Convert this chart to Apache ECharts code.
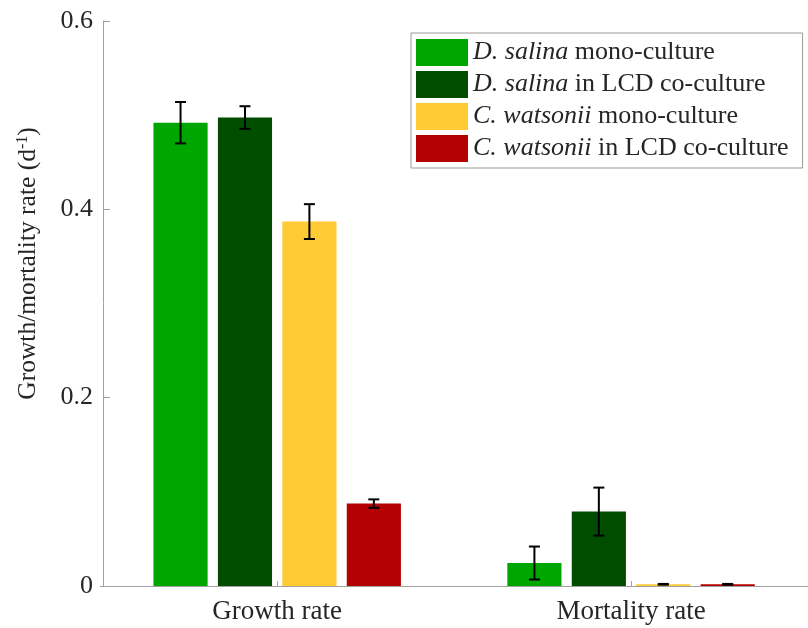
<!DOCTYPE html>
<html>
<head>
<meta charset="utf-8">
<script src="https://cdn.jsdelivr.net/npm/echarts@6/dist/echarts.min.js"></script>
<style>html,body{margin:0;padding:0;background:#fff}#c{width:808px;height:628px}</style>
</head>
<body>
<div id="c"></div>
<script>
const categories = ['Growth rate', 'Mortality rate'];
const seriesNames = ['D. salina mono-culture', 'D. salina in LCD co-culture', 'C. watsonii mono-culture', 'C. watsonii in LCD co-culture'];
const dSalinaMono = [0.492, 0.0244];
const dSalinaMonoErr = [0.022, 0.0175];
const dSalinaCo = [0.4975, 0.079];
const dSalinaCoErr = [0.012, 0.0255];
const cWatsoniiMono = [0.387, 0.0018];
const cWatsoniiMonoErr = [0.0185, 0.0004];
const cWatsoniiCo = [0.0875, 0.0018];
const cWatsoniiCoErr = [0.0045, 0.0004];
const yTicks = [0, 0.2, 0.4, 0.6];

const colors = ['#00A600', '#004D00', '#FFCA33', '#B30000'];
const values = [dSalinaMono, dSalinaCo, cWatsoniiMono, cWatsoniiCo];
const errors = [dSalinaMonoErr, dSalinaCoErr, cWatsoniiMonoErr, cWatsoniiCoErr];
const legendLabels = [
  '{i|D. salina} mono-culture',
  '{i|D. salina} in LCD co-culture',
  '{i|C. watsonii} mono-culture',
  '{i|C. watsonii} in LCD co-culture'
];

const BAR_FRAC = 0.153;
const BAR_GAP = 0.19;
const FONT = '"Liberation Serif", "Times New Roman", serif';
const TXT = '#262626';

const series = [];
values.forEach((vals, i) => {
  series.push({
    name: seriesNames[i],
    type: 'bar',
    data: vals,
    barWidth: (BAR_FRAC * 100) + '%',
    barGap: (BAR_GAP * 100) + '%',
    itemStyle: { color: colors[i] },
    z: 2
  });
});
values.forEach((vals, i) => {
  series.push({
    type: 'custom',
    name: 'err' + i,
    z: 5,
    data: vals.map((v, k) => [k, v, errors[i][k]]),
    renderItem: function (params, api) {
      const cat = api.value(0), v = api.value(1), e = api.value(2);
      const band = api.size([1, 0])[0];
      const bw = band * BAR_FRAC;
      const off = (i - 1.5) * bw * (1 + BAR_GAP);
      const top = api.coord([cat, v + e]);
      const bot = api.coord([cat, v - e]);
      const x = top[0] + off;
      const hw = 5.5;
      const style = { stroke: '#000', lineWidth: 2, fill: null };
      return {
        type: 'group',
        children: [
          { type: 'line', shape: { x1: x, y1: top[1], x2: x, y2: bot[1] }, style },
          { type: 'line', shape: { x1: x - hw, y1: top[1], x2: x + hw, y2: top[1] }, style },
          { type: 'line', shape: { x1: x - hw, y1: bot[1], x2: x + hw, y2: bot[1] }, style }
        ]
      };
    }
  });
});

const chart = echarts.init(document.getElementById('c'), null, { renderer: 'canvas' });
chart.setOption({
  animation: false,
  backgroundColor: '#fff',
  textStyle: { fontFamily: FONT },
  grid: { left: 100.25, right: -11.25, top: 21, bottom: 42, containLabel: false },
  legend: {
    orient: 'vertical',
    left: 411,
    top: 33,
    data: seriesNames,
    itemWidth: 52,
    itemHeight: 27,
    itemGap: 5,
    padding: [6, 14, 6, 5],
    borderColor: '#999',
    borderWidth: 1,
    icon: 'rect',
    formatter: function (name) { return legendLabels[seriesNames.indexOf(name)]; },
    textStyle: {
      fontFamily: FONT, fontSize: 26, color: TXT,
      rich: { i: { fontFamily: FONT, fontSize: 26, fontStyle: 'italic', color: TXT } }
    }
  },
  xAxis: {
    type: 'category',
    data: categories,
    axisLine: { lineStyle: { color: '#a0a0a0', width: 1 } },
    axisTick: { show: true, alignWithLabel: true, inside: true, length: 5, lineStyle: { color: '#a0a0a0' } },
    axisLabel: { fontFamily: FONT, fontSize: 27, color: TXT, margin: 12 }
  },
  yAxis: {
    type: 'value',
    min: yTicks[0],
    max: yTicks[yTicks.length - 1],
    interval: yTicks[1] - yTicks[0],
    offset: -2.75,
    splitLine: { show: false },
    axisLine: { show: true, lineStyle: { color: '#a0a0a0', width: 1 } },
    axisTick: { show: true, inside: true, length: 7, lineStyle: { color: '#a0a0a0' } },
    axisLabel: {
      fontFamily: FONT, fontSize: 26, color: TXT, margin: 10,
      formatter: function (v) { return v === 0 ? '0' : v.toFixed(1); }
    },
    name: '{a|Growth/mortality rate (d}{s|-1}{a|)}',
    nameLocation: 'middle',
    nameGap: 62,
    nameRotate: 90,
    nameTextStyle: {
      padding: [0, 0, 0, 80],
      rich: {
        a: { fontFamily: FONT, fontSize: 25.5, color: TXT },
        s: { fontFamily: FONT, fontSize: 16, color: TXT, verticalAlign: 'top', padding: [0, 0, 10, 0] }
      }
    }
  },
  series: series
});
</script>
</body>
</html>
